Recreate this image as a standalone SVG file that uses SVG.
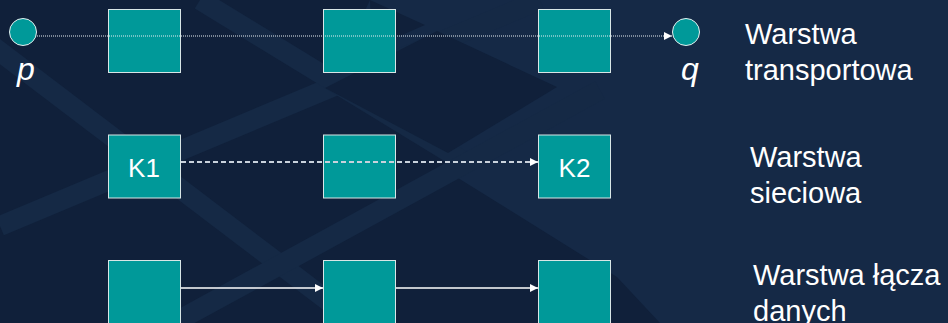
<svg xmlns="http://www.w3.org/2000/svg" width="948" height="323" viewBox="0 0 948 323">
  <defs>
    <style>
      .box { fill: #009999; stroke: #d8e6e6; stroke-width: 1; }
      .host { fill: #009999; stroke: #e6f0f0; stroke-width: 1; }
      .label { font-family: "Liberation Sans", Arial, sans-serif; fill: #ffffff; }
      .layer { font-family: "Liberation Sans", Arial, sans-serif; font-size: 29px; fill: #ffffff; }
      .endpoint { font-family: "Liberation Sans", Arial, sans-serif; font-size: 32px; font-style: italic; fill: #ffffff; }
      .dark { fill: #10203a; }
      .band { stroke: #152945; stroke-width: 20; fill: none; }
      .dotted { stroke: #e8eef2; stroke-width: 1; stroke-dasharray: 1 1; fill: none; }
      .dashed { stroke: #c9d2dc; stroke-width: 2; stroke-dasharray: 5 3; fill: none; }
      .solid { stroke: #ffffff; stroke-width: 1.3; fill: none; }
    </style>
    <marker id="arrow" viewBox="0 0 10 10" refX="10" refY="5" markerWidth="8" markerHeight="8" markerUnits="userSpaceOnUse" orient="auto">
      <path d="M0,0 L10,5 L0,10 z" fill="#ffffff"/>
    </marker>
  </defs>

  <!-- background: navy with darker rhombus facets -->
  <rect x="0" y="0" width="948" height="323" fill="#152946"/>
  <polygon class="dark" points="0,0 370,0 330,85 448,153 450,173 617,277 660,323 0,323"/>
  <g class="bands">
    <line class="band" x1="0" y1="226" x2="540" y2="0"/>
    <line class="band" x1="-68" y1="0" x2="357" y2="323"/>
    <line class="band" x1="200" y1="0" x2="470" y2="165"/>
    <line class="band" x1="170" y1="325" x2="600" y2="90"/>
  </g>
  <polygon class="dark" points="325,88 437,31 557,87 448,153"/>
  <polygon class="dark" points="370,0 425,25 372,48"/>

  <!-- transport layer -->
  <g id="host-p">
    <circle class="host" cx="23" cy="32" r="13.5"/>
    <text class="endpoint" x="26" y="80" text-anchor="middle">p</text>
  </g>
  <g id="t1"><rect class="box" x="108.5" y="9.5" width="72" height="63"/></g>
  <g id="t2"><rect class="box" x="323.5" y="9.5" width="72" height="63"/></g>
  <g id="t3"><rect class="box" x="538.5" y="9.5" width="72" height="63"/></g>
  <g id="host-q">
    <circle class="host" cx="686" cy="32" r="13.5"/>
    <text class="endpoint" x="690" y="80" text-anchor="middle">q</text>
  </g>

  <!-- network layer -->
  <g id="k1">
    <rect class="box" x="108.5" y="135" width="72" height="63"/>
    <text class="label" x="144" y="177" font-size="26" text-anchor="middle">K1</text>
  </g>
  <g id="n2"><rect class="box" x="323.5" y="135" width="72" height="63"/></g>
  <g id="k2">
    <rect class="box" x="538.5" y="135" width="72" height="63"/>
    <text class="label" x="574.5" y="177" font-size="26" text-anchor="middle">K2</text>
  </g>

  <!-- data link layer -->
  <g id="d1"><rect class="box" x="108.5" y="260.5" width="72" height="63"/></g>
  <g id="d2"><rect class="box" x="323.5" y="260.5" width="72" height="63"/></g>
  <g id="d3"><rect class="box" x="538.5" y="260.5" width="72" height="63"/></g>

  <!-- connectors, drawn over the boxes they cross -->
  <g id="connectors">
    <line class="dotted" x1="37" y1="36" x2="672" y2="36" marker-end="url(#arrow)"/>
    <line class="dashed" x1="181" y1="162" x2="538" y2="162" marker-end="url(#arrow)"/>
    <line class="solid" x1="181" y1="288" x2="323" y2="288" marker-end="url(#arrow)"/>
    <line class="solid" x1="396" y1="288" x2="538" y2="288" marker-end="url(#arrow)"/>
  </g>

  <!-- layer names -->
  <g id="layer-transport">
    <text class="layer" x="745" y="44">Warstwa</text>
    <text class="layer" x="745" y="80">transportowa</text>
  </g>
  <g id="layer-network">
    <text class="layer" x="750" y="167">Warstwa</text>
    <text class="layer" x="750" y="203">sieciowa</text>
  </g>
  <g id="layer-datalink">
    <text class="layer" x="753" y="285">Warstwa łącza</text>
    <text class="layer" x="753" y="321">danych</text>
  </g>
</svg>
